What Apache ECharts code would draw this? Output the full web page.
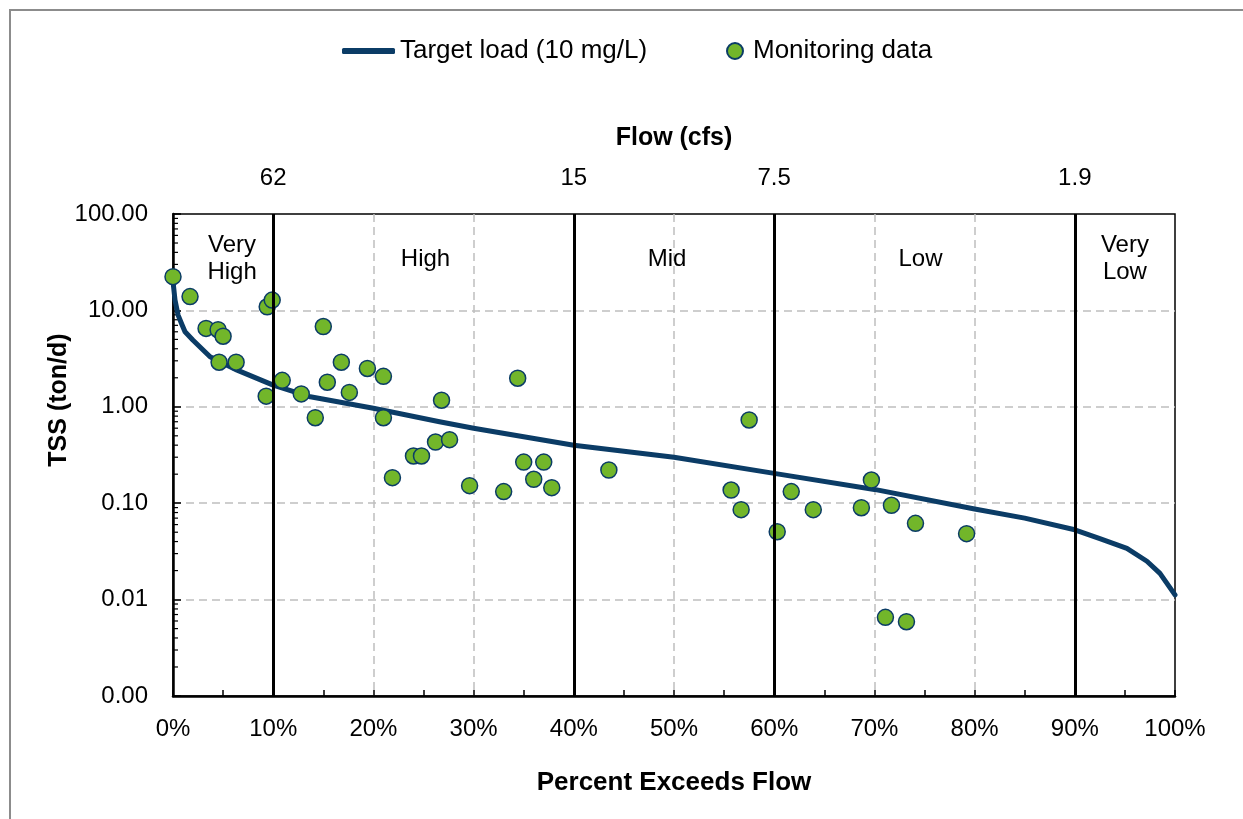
<!DOCTYPE html>
<html>
<head>
<meta charset="utf-8">
<script src="https://cdn.jsdelivr.net/npm/echarts@6/dist/echarts.min.js"></script>
<style>
  html, body { margin: 0; padding: 0; background: #fff; }
  #chart-panel { width: 1243px; height: 819px; }
</style>
</head>
<body>
<div id="chart-panel"></div>
<script>
// load duration curve, percent of time flow is exceeded vs TSS load
var curvePct = [0, 0.2, 0.5, 0.9, 1.2, 2, 3.7, 6.4, 10, 13.7, 20, 26.6, 30, 40, 50, 60, 70, 80, 85, 90, 92.5, 95.2, 97.2, 98.5, 100];
var curveLoad = [20, 12.8, 9.0, 7.1, 6.0, 4.9, 3.3, 2.4, 1.68, 1.27, 0.965, 0.70, 0.60, 0.40, 0.30, 0.204, 0.139, 0.087, 0.070, 0.053, 0.043, 0.034, 0.025, 0.0187, 0.0112];

var sampPct = [0.0, 1.7, 3.3, 4.5, 5.0, 4.6, 6.3, 9.3, 9.4, 9.9, 10.9, 12.8, 15.0, 14.2, 15.4, 16.8, 17.6, 19.4, 21.0, 21.0, 21.9, 26.8, 24.0, 24.8, 26.2, 27.6, 29.6, 33.0, 34.4, 35.0, 36.0, 37.0, 37.8, 43.5, 55.7, 56.7, 57.5, 60.3, 61.7, 63.9, 68.7, 69.7, 71.7, 74.1, 79.2, 71.1, 73.2];
var sampLoad = [22.4, 13.9, 6.5, 6.3, 5.4, 2.9, 2.9, 1.29, 10.9, 12.8, 1.88, 1.36, 6.8, 0.77, 1.8, 2.9, 1.41, 2.5, 2.07, 0.77, 0.184, 1.17, 0.309, 0.309, 0.431, 0.456, 0.152, 0.132, 1.98, 0.267, 0.177, 0.267, 0.145, 0.221, 0.137, 0.0857, 0.73, 0.0506, 0.132, 0.0857, 0.0898, 0.174, 0.0951, 0.0618, 0.0483, 0.00655, 0.0059];

// flow regimes
var regimeBreaks = [0, 10, 40, 60, 90, 100];
var regimeNames = ['Very\nHigh', 'High', 'Mid', 'Low', 'Very\nLow'];
var regimeLabelShift = [9, 2, -7, -4, 0];

// top axis: flow in cfs at the regime breaks
var flowTickPct = [10, 40, 60, 90];
var flowTickLabels = ['62', '15', '7.5', '1.9'];

// log axis minor ticks
var logDecades = [0.001, 0.01, 0.1, 1, 10];
var minorSteps = [2, 3, 4, 5, 6, 7, 8, 9];

var FONT = 'Arial, "Liberation Sans", sans-serif';
var NAVY = '#0b3c66';

var curveData = curvePct.map(function (x, i) { return [x, curveLoad[i]]; });
var sampData = sampPct.map(function (x, i) { return [x, sampLoad[i]]; });
var minorData = [];
logDecades.forEach(function (d) {
  minorSteps.forEach(function (m) { minorData.push([0, d * m]); });
});

var regimeAreas = regimeNames.map(function (name, i) {
  return [{
    xAxis: regimeBreaks[i],
    yAxis: 100,
    label: { offset: [regimeLabelShift[i], 0] },
    name: name
  }, {
    xAxis: regimeBreaks[i + 1],
    yAxis: 0.001
  }];
});
var regimeLines = regimeBreaks.slice(1, -1).map(function (x) { return { xAxis: x }; });

var myChart = echarts.init(document.getElementById('chart-panel'));

myChart.setOption({
  backgroundColor: '#fff',
  animation: false,
  textStyle: { fontFamily: FONT },
  graphic: [{
    type: 'rect',
    shape: { x: 10, y: 10, width: 1400, height: 1000 },
    style: { fill: 'none', stroke: '#8c8c8c', lineWidth: 2 },
    silent: true
  }],
  legend: [{
    data: ['Target load (10 mg/L)'],
    left: 337,
    top: 33,
    icon: 'roundRect',
    itemWidth: 53,
    itemHeight: 6,
    textStyle: { color: '#000', fontSize: 26, fontFamily: FONT }
  }, {
    data: ['Monitoring data'],
    left: 721,
    top: 33,
    icon: 'circle',
    itemWidth: 16,
    itemHeight: 16,
    textStyle: { color: '#000', fontSize: 26, fontFamily: FONT, padding: [0, 0, 0, 5] }
  }],
  grid: {
    left: 173,
    top: 214,
    width: 1002,
    height: 482,
    show: true,
    borderColor: '#000',
    borderWidth: 1.5,
    backgroundColor: 'transparent'
  },
  xAxis: [{
    type: 'value',
    min: 0,
    max: 100,
    interval: 10,
    name: 'Percent Exceeds Flow',
    nameLocation: 'middle',
    nameGap: 74,
    nameMoveOverlap: false,
    nameTextStyle: { color: '#000', fontSize: 26, fontWeight: 'bold', fontFamily: FONT },
    axisLine: { show: true, onZero: false, lineStyle: { color: '#000', width: 2.5 } },
    axisTick: { show: true, inside: true, length: 6, lineStyle: { color: '#000', width: 1.5 } },
    minorTick: { show: true, splitNumber: 2, length: 6, lineStyle: { color: '#000', width: 1.5 } },
    axisLabel: {
      color: '#000',
      fontSize: 24,
      margin: 21,
      fontFamily: FONT,
      formatter: function (v) { return v + '%'; }
    },
    splitLine: {
      show: true,
      showMinLine: false,
      showMaxLine: false,
      lineStyle: { color: '#bfbfbf', width: 1.5, type: [8, 5] }
    }
  }, {
    type: 'value',
    position: 'top',
    min: 0,
    max: 100,
    interval: 10,
    name: 'Flow (cfs)',
    nameLocation: 'middle',
    nameGap: 63,
    nameMoveOverlap: false,
    nameTextStyle: { color: '#000', fontSize: 25, fontWeight: 'bold', fontFamily: FONT },
    axisLine: { show: false },
    axisTick: { show: false },
    splitLine: { show: false },
    axisLabel: {
      color: '#000',
      fontSize: 24,
      margin: 24,
      fontFamily: FONT,
      formatter: function (v) {
        var k = flowTickPct.indexOf(v);
        return k >= 0 ? flowTickLabels[k] : '';
      }
    }
  }],
  yAxis: {
    type: 'log',
    logBase: 10,
    min: 0.001,
    max: 100,
    name: 'TSS (ton/d)',
    nameLocation: 'middle',
    nameGap: 101,
    nameMoveOverlap: false,
    nameTextStyle: {
      color: '#000', fontSize: 25, fontWeight: 'bold', fontFamily: FONT,
      padding: [0, 0, 0, 110]
    },
    axisLine: { show: true, onZero: false, lineStyle: { color: '#000', width: 2.5 } },
    axisTick: { show: true, inside: true, length: 8, lineStyle: { color: '#000', width: 1.5 } },
    axisLabel: {
      color: '#000',
      fontSize: 24,
      margin: 25,
      fontFamily: FONT,
      formatter: function (v) { return v.toFixed(2); }
    },
    splitLine: {
      show: true,
      showMinLine: false,
      showMaxLine: false,
      lineStyle: { color: '#bfbfbf', width: 1.5, type: [8, 5] }
    }
  },
  series: [{
    // regime dividers and labels
    name: 'regimes',
    type: 'line',
    data: [],
    z: 1,
    silent: true,
    markArea: {
      silent: true,
      itemStyle: { color: 'rgba(0,0,0,0)' },
      label: {
        show: true,
        position: ['50%', 45],
        align: 'center',
        verticalAlign: 'middle',
        color: '#000',
        fontSize: 24,
        lineHeight: 27,
        fontFamily: FONT
      },
      data: regimeAreas
    },
    markLine: {
      silent: true,
      symbol: ['none', 'none'],
      label: { show: false },
      lineStyle: { color: '#000', width: 3, type: 'solid' },
      data: regimeLines
    }
  }, {
    name: 'minor ticks',
    type: 'custom',
    silent: true,
    z: 2,
    clip: false,
    data: minorData,
    renderItem: function (params, api) {
      var p = api.coord([0, api.value(1)]);
      return {
        type: 'line',
        shape: { x1: p[0], y1: p[1], x2: p[0] + 5, y2: p[1] },
        style: { stroke: '#000', lineWidth: 1.2 }
      };
    }
  }, {
    name: 'Target load (10 mg/L)',
    type: 'line',
    data: curveData,
    z: 3,
    symbol: 'none',
    smooth: false,
    color: NAVY,
    lineStyle: { color: NAVY, width: 5, join: 'round', cap: 'round' }
  }, {
    name: 'Monitoring data',
    type: 'scatter',
    data: sampData,
    z: 4,
    symbol: 'circle',
    symbolSize: 16,
    itemStyle: { color: '#72b62a', borderColor: NAVY, borderWidth: 1.5, opacity: 1 }
  }]
});

window.onresize = function () {
  myChart.resize();
};
</script>
</body>
</html>
